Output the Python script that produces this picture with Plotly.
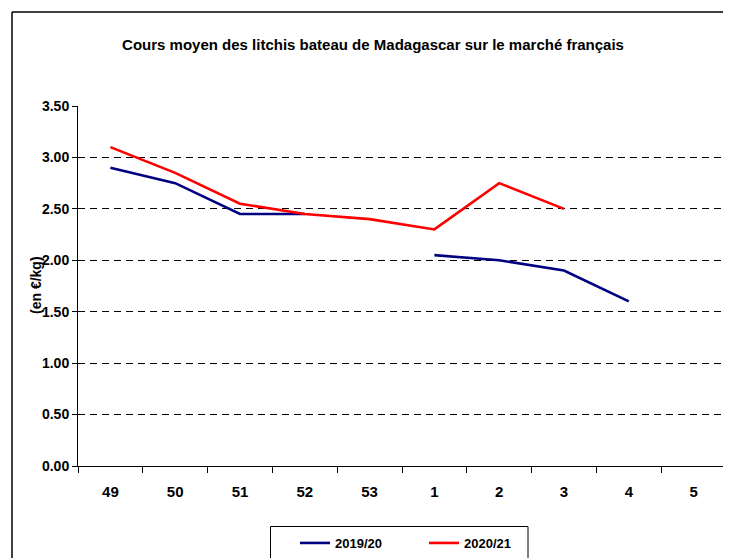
import plotly.graph_objects as go

weeks = ["49", "50", "51", "52", "53", "1", "2", "3", "4", "5"]
s2019_20 = [2.90, 2.75, 2.45, 2.45, None, 2.05, 2.00, 1.90, 1.60, None]
s2020_21 = [3.10, 2.85, 2.55, 2.45, 2.40, 2.30, 2.75, 2.50, None, None]
y_ticks = [0, 0.5, 1.0, 1.5, 2.0, 2.5, 3.0, 3.5]
y_ticklabels = ["0.00", "0.50", "1.00", "1.50", "2.00", "2.50", "3.00", "3.50"]

FONT = "Liberation Sans, Arial, sans-serif"

fig = go.Figure()
fig.add_trace(go.Scatter(x=weeks, y=s2019_20, mode="lines", name="2019/20",
                         line=dict(color="#000080", width=2.6), connectgaps=False))
fig.add_trace(go.Scatter(x=weeks, y=s2020_21, mode="lines", name="2020/21",
                         line=dict(color="#FF0000", width=2.6), connectgaps=False))

# the page body has an 8px margin, so the figure is offset by 8px
OFF = 8
W, H = 731 - OFF, 558 - OFF
ml, mr, mt, mb = 70, 5, 98, 92
pw = W - ml - mr
ph = H - mt - mb

def px_x(x):  # page pixel -> paper
    return (x - OFF - ml) / pw

def px_y(y):
    return (H - mb - (y - OFF)) / ph

def seg(x0, y0, x1, y1, w):
    return dict(type="line", xref="paper", yref="paper",
                x0=px_x(x0), y0=px_y(y0), x1=px_x(x1), y1=px_y(y1),
                line=dict(color="black", width=w), layer="below")

fig.update_layout(
    width=W, height=H,
    margin=dict(l=ml, r=mr, t=mt, b=mb, autoexpand=False),
    paper_bgcolor="white", plot_bgcolor="white",
    font=dict(family=FONT, size=14, color="black", weight="bold"),
    title=dict(text="Cours moyen des litchis bateau de Madagascar sur le marché français",
               x=(373 - OFF) / W, xanchor="center", xref="container",
               y=1 - (45 - OFF) / H, yanchor="middle", yref="container",
               font=dict(family=FONT, size=15, color="black", weight="bold")),
    xaxis=dict(type="category", categoryorder="array", categoryarray=weeks,
               range=[-0.5, len(weeks) - 0.5],
               showline=True, linecolor="black", linewidth=1,
               ticks="outside", tickson="boundaries", ticklen=6, tickcolor="black",
               showgrid=False, ticklabelstandoff=12,
               tickfont=dict(size=15, weight="bold")),
    yaxis=dict(range=[0, 3.5], tickvals=y_ticks, ticktext=y_ticklabels,
               showline=True, linecolor="black", linewidth=1,
               ticks="outside", ticklen=5, tickcolor="black",
               showgrid=True, gridcolor="black", gridwidth=1, griddash="7px,5px",
               zeroline=False, tickfont=dict(size=14, weight="bold")),
    showlegend=True,
    legend=dict(orientation="h", x=px_x(295), xanchor="left", y=px_y(528), yanchor="top",
                borderwidth=0, bgcolor="rgba(0,0,0,0)",
                entrywidth=84, entrywidthmode="pixels",
                font=dict(size=13, weight="bold")),
    shapes=[seg(12, 12, 740, 12, 1.5),
            seg(12, 12, 12, 570, 1.5),
            seg(270.5, 526.5, 528, 526.5, 1),
            seg(270.5, 526.5, 270.5, 570, 1),
            seg(528, 526.5, 528, 570, 1)],
    annotations=[dict(text="(en €/kg)", xref="paper", yref="paper",
                      x=px_x(36), y=px_y(285), xanchor="center", yanchor="middle",
                      textangle=-90, showarrow=False,
                      font=dict(size=14, weight="bold"))],
)

fig.write_html("out.html")
